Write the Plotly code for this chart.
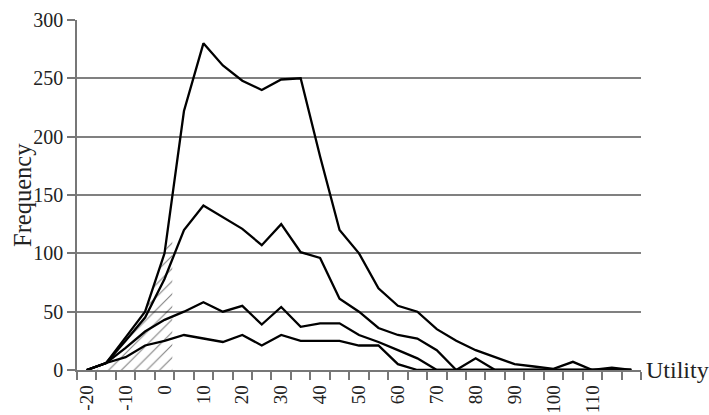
import plotly.graph_objects as go

utility = [-20, -15, -10, -5, 0, 5, 10, 15, 20, 25, 30, 35, 40, 45, 50, 55, 60, 65,
           70, 75, 80, 85, 90, 95, 100, 105, 110, 115, 120]

series_a = [0, 6, 28, 50, 100, 222, 280, 261, 248, 240, 249, 250, 183, 120, 100, 70, 55, 50,
            35, 25, 17, 11, 5, 3, 1, 7, 0, 2, 0]
series_b = [0, 6, 25, 45, 78, 120, 141, 131, 121, 107, 125, 101, 96, 61, 50, 36, 30, 27,
            17, 0, 10, 0, 0, 0, 0, 0, 0, 0, 0]
series_c = [0, 6, 19, 33, 43, 50, 58, 50, 55, 39, 54, 37, 40, 40, 30, 24, 17, 10,
            0, 0, 0, 0, 0, 0, 0, 0, 0, 0, 0]
series_d = [0, 6, 11, 21, 25, 30, 27, 24, 30, 21, 30, 25, 25, 25, 21, 21, 5, 0,
            0, 0, 0, 0, 0, 0, 0, 0, 0, 0, 0]

# hatched region (utility below zero)
hatch_x = [-17.5, -15, -10, -5, 0, 2, 2]
hatch_y = [0, 6, 28, 50, 100, 118, 0]

tick_vals = [-20, -10, 0, 10, 20, 30, 40, 50, 60, 70, 80, 90, 100, 110]
tick_text = [str(v) for v in tick_vals]

FONT = "Liberation Serif"

fig = go.Figure()

fig.add_trace(go.Scatter(
    x=hatch_x, y=hatch_y, mode="lines", fill="toself",
    fillcolor="rgba(0,0,0,0)",
    fillpattern=dict(shape="/", fgcolor="#000", bgcolor="rgba(0,0,0,0)", size=9, solidity=0.12),
    line=dict(width=0), hoverinfo="skip", showlegend=False))

for s in [series_d, series_c, series_b, series_a]:
    fig.add_trace(go.Scatter(
        x=utility, y=s, mode="lines",
        line=dict(color="black", width=2.3), showlegend=False))

fig.update_layout(
    width=709, height=415,
    margin=dict(l=77, r=68, t=20, b=45),
    paper_bgcolor="white", plot_bgcolor="white",
    font=dict(family=FONT, color="#222"),
    annotations=[
        dict(text="Utility", xref="paper", yref="y", x=1, y=0,
             xanchor="left", yanchor="middle", xshift=3, showarrow=False,
             font=dict(family=FONT, size=24, color="#222")),
        dict(text="Frequency", xref="paper", yref="paper", x=0, y=0.5,
             xanchor="center", yanchor="middle", xshift=-55, textangle=-90,
             showarrow=False, font=dict(family=FONT, size=24.5, color="#222")),
    ],
)

fig.update_xaxes(
    range=[-22.5, 122.5], automargin=False,
    tickmode="array", tickvals=tick_vals, ticktext=tick_text,
    tickangle=-90, ticks="", ticklabelstandoff=6,
    tickfont=dict(family=FONT, size=19, color="#222"),
    showgrid=False, zeroline=False,
    showline=True, linecolor="#777", linewidth=1.5,
    minor=dict(ticks="outside", tick0=-22.5, dtick=5, ticklen=8,
               tickcolor="#777", tickwidth=1.5, showgrid=False),
)

fig.update_yaxes(
    range=[0, 300], tickmode="linear", tick0=0, dtick=50, automargin=False,
    ticks="outside", ticklen=8, tickcolor="#777", tickwidth=1.5,
    tickfont=dict(family=FONT, size=20, color="#222"),
    showgrid=True, gridcolor="#808080", gridwidth=1.5,
    zeroline=False, showline=True, linecolor="#777", linewidth=1.5,
)

fig.write_html("out.html")
